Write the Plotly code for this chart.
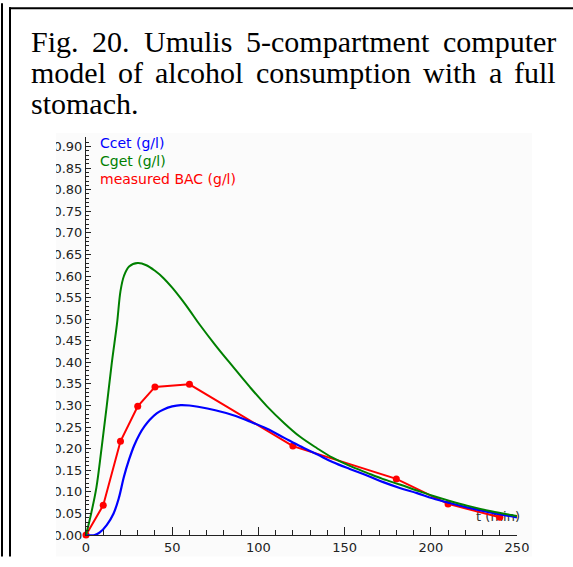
import plotly.graph_objects as go

# ---------------- data ----------------
t_meas = [0, 10, 20, 30, 40, 60, 120, 180, 210, 240]
bac_meas = [0.0, 0.069, 0.217, 0.298, 0.343, 0.349, 0.206, 0.130, 0.072, 0.041]

t_ccet = [0, 5, 8, 12, 16, 19, 22, 25, 28, 31, 34, 37, 41, 45, 50, 55, 60, 65,
          75, 85, 95, 105, 115, 124, 134, 143, 153, 163, 172, 182, 192, 201,
          211, 221, 235, 250]
ccet = [0.0, 0.0, 0.006, 0.023, 0.05, 0.085, 0.135, 0.175, 0.208, 0.233, 0.252,
        0.267, 0.282, 0.291, 0.298, 0.301, 0.300, 0.297, 0.289, 0.278, 0.263,
        0.246, 0.225, 0.206, 0.187, 0.169, 0.153, 0.138, 0.123, 0.109, 0.097,
        0.085, 0.074, 0.064, 0.052, 0.041]

t_cget = [0, 3, 6, 9, 12, 15, 18, 20, 22, 25, 30, 35, 40, 45, 50, 55, 60, 66,
          75, 85, 95, 105, 115, 124, 134, 143, 153, 163, 172, 182, 192, 201,
          211, 221, 235, 250]
cget = [0.0, 0.05, 0.109, 0.20, 0.298, 0.40, 0.49, 0.565, 0.60, 0.622, 0.630,
        0.625, 0.612, 0.595, 0.573, 0.548, 0.521, 0.487, 0.440, 0.391, 0.343,
        0.298, 0.259, 0.228, 0.201, 0.179, 0.160, 0.144, 0.130, 0.117, 0.103,
        0.091, 0.079, 0.068, 0.055, 0.044]

series_names = ["Ccet (g/l)", "Cget (g/l)", "measured BAC (g/l)"]
series_colors = ["#0000ff", "#008000", "#ff0000"]
x_label = "t (min)"

caption_lines = [
    ["Fig.", "20.", "Umulis", "5-compartment", "computer"],
    ["model", "of", "alcohol", "consumption", "with", "a", "full"],
    ["stomach."],
]

# ---------------- layout geometry (pixels) ----------------
FW, FH = 573, 567
L, R, T, B = 86, 517, 137, 545
PW, PH = R - L, B - T


def px(x):
    return (x - L) / PW


def py(y):
    return (B - y) / PH


fig = go.Figure()

# axis label drawn underneath the curves
fig.add_trace(go.Scatter(x=[239], y=[0.041], mode="text", text=[x_label],
                         textfont=dict(family="DejaVu Sans", size=13, color="#333"),
                         showlegend=False, hoverinfo="skip", cliponaxis=False))

fig.add_trace(go.Scatter(x=t_meas, y=bac_meas, mode="lines+markers",
                         line=dict(color=series_colors[2], width=2),
                         marker=dict(color=series_colors[2], size=7),
                         name=series_names[2], cliponaxis=False))
fig.add_trace(go.Scatter(x=t_ccet, y=ccet, mode="lines", line_shape="spline",
                         line=dict(color=series_colors[0], width=2.2),
                         name=series_names[0], cliponaxis=False))
fig.add_trace(go.Scatter(x=t_cget, y=cget, mode="lines", line_shape="spline",
                         line=dict(color=series_colors[1], width=2),
                         name=series_names[1], cliponaxis=False))

# legend-like labels
for i, (nm, col) in enumerate(zip(series_names, series_colors)):
    fig.add_annotation(x=px(98), y=py(143 + i * 18.5), xref="paper", yref="paper",
                       text=nm, showarrow=False, xanchor="left", yanchor="middle",
                       font=dict(family="DejaVu Sans", size=14, color=col))

# caption, justified
W_TIMES = {"F": .556, "i": .278, "g": .5, ".": .25, "2": .5, "0": .5, "U": .722,
           "m": .778, "u": .5, "l": .278, "s": .389, "5": .5, "-": .333, "c": .444,
           "o": .5, "p": .5, "a": .444, "r": .333, "t": .278, "e": .444, "n": .5,
           "d": .5, "h": .5, "w": .722, "f": .333}
FS = 30
left_x, right_x = 30, 555
line_y = [39, 71, 103]
for li, words in enumerate(caption_lines):
    widths = [sum(W_TIMES[c] for c in w) * FS for w in words]
    if li < 2:
        gap = (right_x - left_x - sum(widths)) / (len(words) - 1)
    else:
        gap = 0.25 * FS
    xcur = left_x
    for w, wd in zip(words, widths):
        fig.add_annotation(x=px(xcur), y=py(line_y[li]), xref="paper", yref="paper",
                           text=w, showarrow=False, xanchor="left", yanchor="middle",
                           borderpad=0,
                           font=dict(family="Liberation Serif", size=FS, color="black"))
        xcur += wd + gap


def rect(x0, x1, y0, y1, color, layer):
    return dict(type="rect", xref="paper", yref="paper",
                x0=px(x0), x1=px(x1), y0=py(y0), y1=py(y1),
                fillcolor=color, line_width=0, layer=layer)


shapes = [
    rect(56, 532, 133, 567, "#fbfbfb", "below"),
    rect(11, 56, 133, 567, "white", "above"),
    rect(1, 3, 0, 567, "black", "above"),
    rect(9, 11, 4, 567, "black", "above"),
    rect(9, 573, 4, 6, "black", "above"),
]

fig.update_layout(
    width=FW, height=FH,
    margin=dict(l=L, r=FW - R, t=T, b=FH - B, pad=0),
    paper_bgcolor="white", plot_bgcolor="rgba(0,0,0,0)",
    showlegend=False, shapes=shapes,
)
fig.update_xaxes(range=[0, 250], dtick=50, tick0=0, showgrid=False, zeroline=False,
                 showline=True, linecolor="#222", linewidth=1,
                 ticks="inside", ticklen=8, tickcolor="#222",
                 minor=dict(dtick=10, ticks="inside", ticklen=5, tickcolor="#222"),
                 tickfont=dict(family="DejaVu Sans", size=13, color="#222"))
fig.update_yaxes(range=[0, 0.922], dtick=0.05, tick0=0, tickformat=".2f",
                 showgrid=False, zeroline=False,
                 showline=True, linecolor="#222", linewidth=1,
                 ticks="inside", ticklen=5, tickcolor="#222",
                 minor=dict(dtick=0.01, ticks="inside", ticklen=3, tickcolor="#222"),
                 tickfont=dict(family="DejaVu Sans", size=13, color="#222"))

fig.write_html("out.html", config={"displayModeBar": False},
               post_script="document.body.style.margin='0px';")
